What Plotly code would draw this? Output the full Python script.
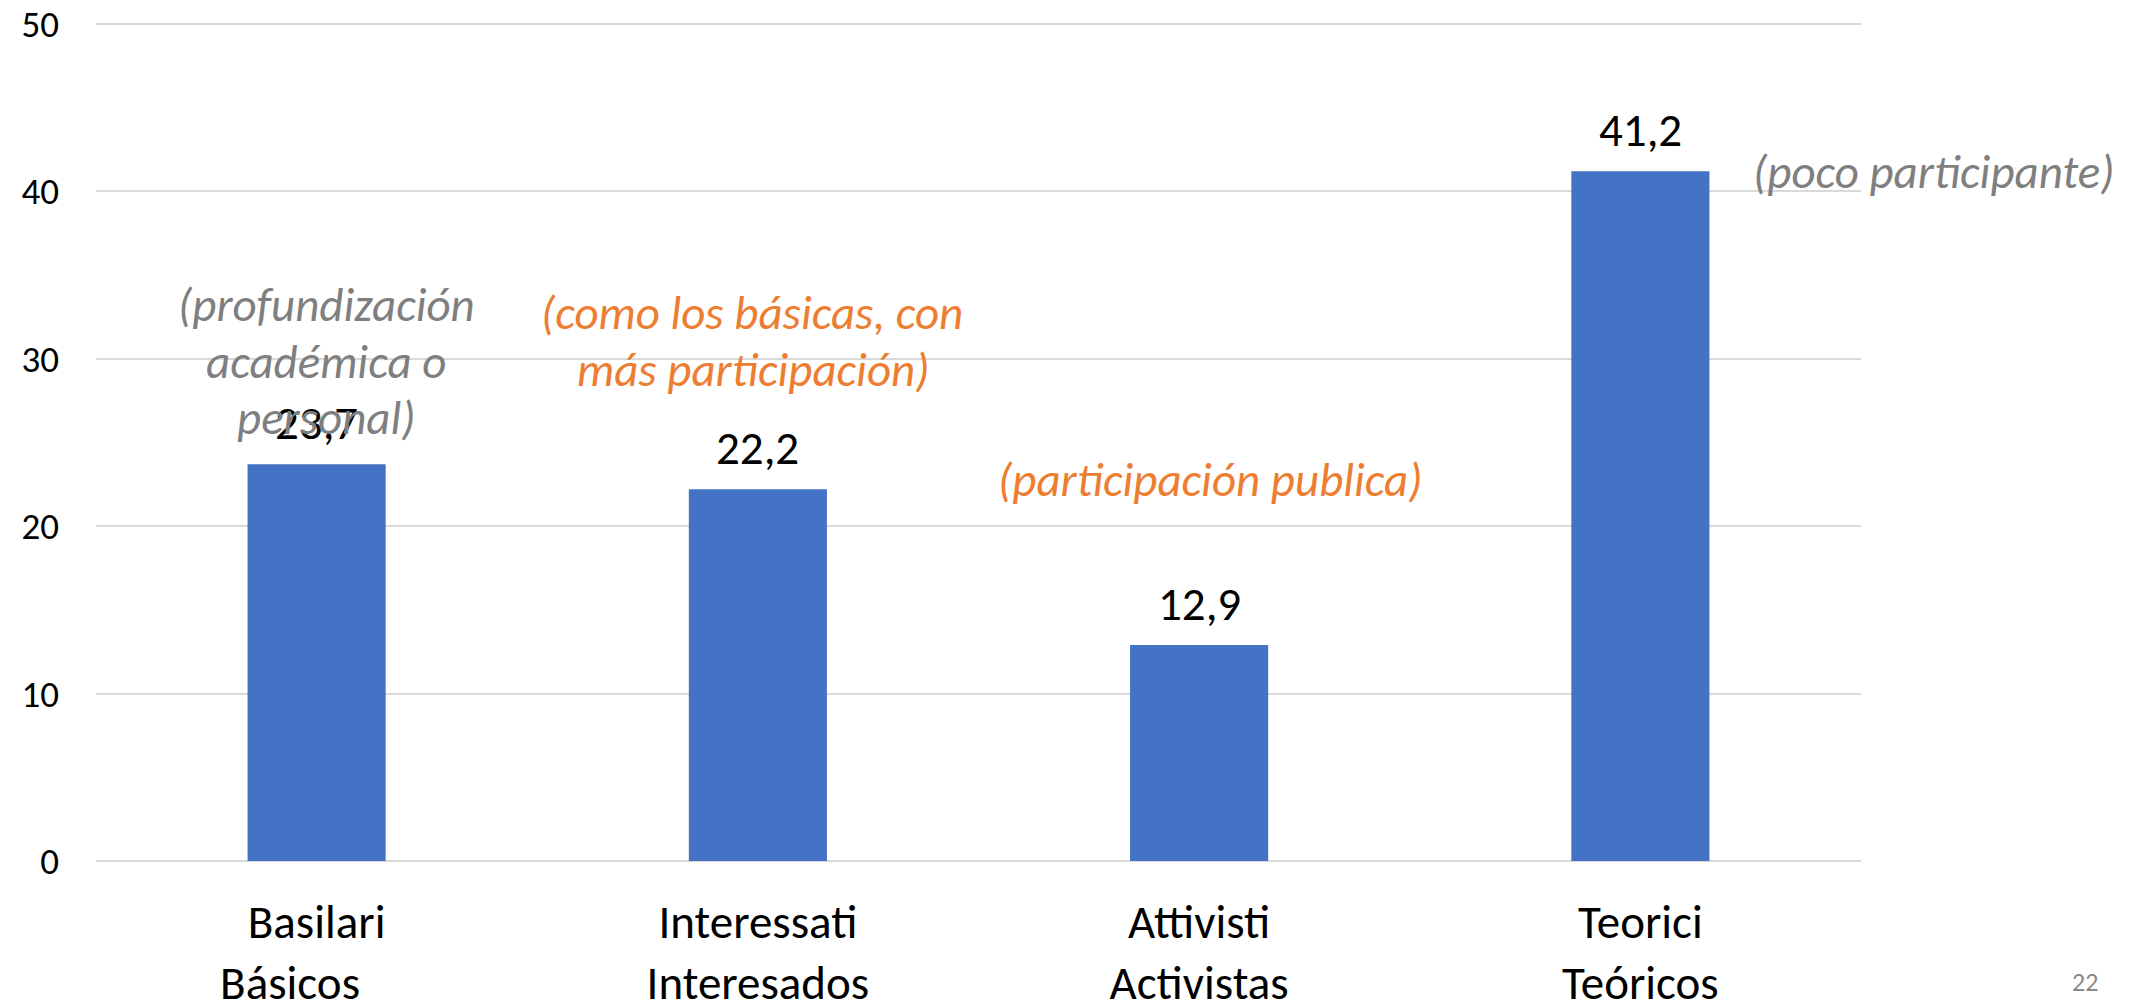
import plotly.graph_objects as go

categories = ["Basilari<br>Básicos" + "\u00a0" * 5, "Interessati<br>Interesados", "Attivisti<br>Activistas", "Teorici<br>Teóricos"]
values = [23.7, 22.2, 12.9, 41.2]
value_labels = [f"{v:.1f}".replace(".", ",") for v in values]
y_ticks = [0, 10, 20, 30, 40, 50]

# comment lines (text, colour)
note_lines = ["(profundización", "académica o", "personal)",
              "(como los básicas, con", "más participación)",
              "(participación publica)",
              "(poco participante)"]
note_colors = ["#7F7F7F", "#7F7F7F", "#7F7F7F", "#ED7D31", "#ED7D31", "#ED7D31", "#7F7F7F"]

# layout: page-pixel centre / baseline of each comment line
note_px_x = [326, 326, 326, 752, 753, 1210, 1933]
note_px_base = [320, 377, 433, 328, 385, 495, 187]

FONT = "Carlito, Calibri, Lato, sans-serif"

# value axis: 0 at page y 861, 50 at page y 24
Y0_PX, Y50_PX = 861, 24
PX_PER_UNIT = (Y0_PX - Y50_PX) / 50
EXTRA_TOP = 4  # px of headroom so the 50 gridline is drawn
Y_MAX = 50 + EXTRA_TOP / PX_PER_UNIT

PX_L, PX_R, PX_T, PX_B = 96, 1861, Y50_PX - EXTRA_TOP, Y0_PX
W, H = 2138, 992
ML, MT = PX_L - 8, PX_T - 8
MR = W - (PX_R - 8)
MB = H - (PX_B - 8)


def px_to_paper_x(px):
    return (px - PX_L) / (PX_R - PX_L)


def px_to_paper_y(py):
    return (PX_B - py) / (PX_B - PX_T)


fig = go.Figure()
fig.add_trace(go.Bar(
    x=list(range(len(categories))), y=values,
    marker=dict(color="#4472C4", line=dict(width=0)),
    width=0.313,
))

for i, (v, lab) in enumerate(zip(values, value_labels)):
    fig.add_annotation(x=i, y=v, xref="x", yref="y", text=lab, showarrow=False,
                       yanchor="bottom", yshift=10,
                       font=dict(family=FONT, size=47, color="#000000"))

NOTE_SIZE = 47
for t, c, px, pb in zip(note_lines, note_colors, note_px_x, note_px_base):
    fig.add_annotation(x=px_to_paper_x(px), y=px_to_paper_y(pb - 15), xref="paper", yref="paper",
                       text=f"<i>{t}</i>", showarrow=False,
                       xanchor="center", yanchor="middle",
                       font=dict(family=FONT, size=NOTE_SIZE, color=c))

fig.add_annotation(x=px_to_paper_x(2085), y=px_to_paper_y(982),
                   xref="paper", yref="paper", text="22", showarrow=False,
                   xanchor="center", yanchor="middle",
                   font=dict(family=FONT, size=26, color="#898989"))

fig.update_layout(
    width=W, height=H,
    margin=dict(l=ML, r=MR, t=MT, b=MB, autoexpand=False),
    plot_bgcolor="white", paper_bgcolor="white",
    showlegend=False,
    font=dict(family=FONT, color="#000000"),
)

fig.update_xaxes(
    range=[-0.5, 3.5], tickvals=list(range(len(categories))), ticktext=categories,
    showgrid=False, zeroline=False, showline=False, automargin=False,
    ticks="", ticklabelstandoff=29, ticklabeloverflow="allow",
    tickfont=dict(family=FONT, size=47, color="#000000"),
)
fig.update_yaxes(
    range=[0, Y_MAX], tickvals=y_ticks, automargin=False,
    showgrid=True, gridcolor="#D9D9D9", gridwidth=2,
    zeroline=True, zerolinecolor="#D9D9D9", zerolinewidth=2,
    showline=False,
    ticks="", ticklabelstandoff=36, ticklabeloverflow="allow",
    tickfont=dict(family=FONT, size=37, color="#000000"),
)

fig.write_html("out.html")
